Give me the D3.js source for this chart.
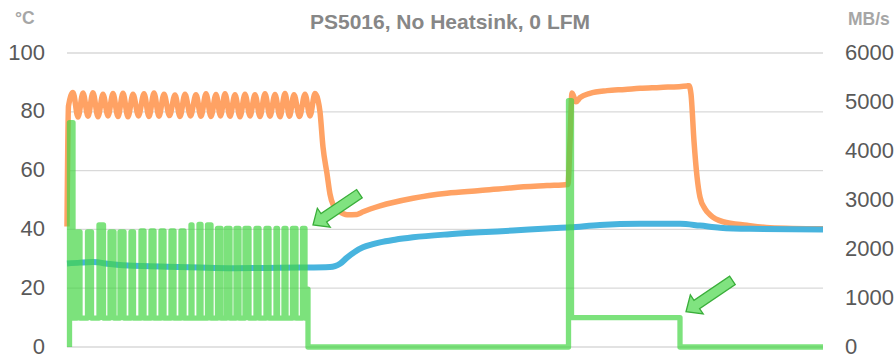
<!DOCTYPE html>
<html>
<head>
<meta charset="utf-8">
<script src="https://cdn.jsdelivr.net/npm/d3@7/dist/d3.min.js"></script>
<style>
	body { margin: 0; background: #fff; }
	svg { display: block; font-family: "Liberation Sans", Arial, sans-serif; }
</style>
</head>
<body>
<svg id="chart" width="896" height="358"></svg>
<script>
// elapsed time in seconds, temperatures in degC, throughput in MB/s
const orangeT = [0, 3,
	12, 22, 32, 42, 52, 62, 72, 82, 92, 102, 112, 122, 132, 143, 154, 164, 174, 184, 194, 205, 216, 226, 236, 247,
	258, 268, 278, 288, 298, 307, 316, 326, 336, 346, 356, 366, 376, 386, 396, 406, 416, 426, 436, 445, 454, 465,
	476, 486, 496,
	502, 506, 512, 520, 526, 532, 546, 560, 580, 592, 626, 692, 760, 826, 892, 960, 1002,
	1006, 1010, 1018, 1026, 1046, 1080, 1116, 1146, 1186, 1240, 1244,
	1248, 1254, 1260, 1266, 1276, 1286, 1312, 1360, 1406, 1512];
const orangeC = [41, 82,
	86.6, 78.2, 86.4, 78.5, 86.5, 78.3, 86.0, 78.6, 86.2, 78.4, 86.3, 78.3, 86.0, 78.6, 86.1, 78.4, 86.4, 78.5, 86.0, 78.7, 85.7, 78.4, 86.0, 78.6,
	85.8, 78.5, 86.1, 78.4, 85.9, 78.6, 86.1, 78.5, 85.8, 78.3, 86.0, 78.6, 85.8, 78.4, 86.1, 78.5, 85.9, 78.3, 86.2, 78.5, 85.8, 78.4,
	86.0, 78.6, 86.2,
	84, 80, 68, 59, 52, 48.5, 46, 45, 45.1, 46, 48, 50.6, 52.3, 53.2, 54.2, 54.9, 55.3,
	70, 86.4, 83.4, 84.8, 86.3, 87.2, 87.6, 88.0, 88.3, 88.8, 88.9,
	86, 70, 58, 51, 47, 45, 42.6, 41.4, 40.6, 40.2];

const blueT = [0, 26, 52, 86, 132, 166, 200, 266, 332, 400, 466, 526, 536, 546, 560, 576, 592, 610, 626, 656, 692, 760, 826, 892, 960, 1006, 1066, 1146, 1226, 1266, 1306, 1366, 1512];
const blueC = [28.4, 28.7, 28.9, 28.2, 27.6, 27.5, 27.3, 27.0, 26.8, 26.9, 27.0, 27.2, 27.5, 28.3, 30.4, 32.4, 33.9, 34.9, 35.6, 36.5, 37.3, 38.3, 39.0, 39.6, 40.3, 40.7, 41.5, 41.9, 41.9, 41.3, 40.6, 40.2, 40.0];

// throttled write bursts: start, end and peak MB/s of every burst
const pulseOn = [20, 41, 64, 86, 106, 128, 148, 168, 188, 208, 228, 248, 264, 281, 301, 319, 338, 356, 378, 398, 418, 434, 451, 471];
const pulseOff = [26, 49, 73, 94, 114, 133, 154, 174, 194, 214, 234, 250, 268, 288, 308, 326, 344, 364, 384, 404, 421, 438, 458, 476];
const pulseTop = [2350, 2350, 2490, 2350, 2350, 2350, 2370, 2370, 2370, 2370, 2370, 2490, 2500, 2490, 2420, 2420, 2420, 2420, 2420, 2420, 2420, 2420, 2420, 2420];
const burstLow = 590;
const greenHead = [[5, 0], [5, 4580], [12, 4580], [12, 590]];
const greenTail = [[478, 590], [478, 1180], [482, 1180], [482, 0], [1003, 0], [1003, 5030], [1009, 5030], [1009, 600], [1226, 600], [1226, 0], [1512, 0]];

const leftTicks = [0, 20, 40, 60, 80, 100];
const rightTicks = [0, 1000, 2000, 3000, 4000, 5000, 6000];

const title = 'PS5016, No Heatsink, 0 LFM';
const leftUnit = '°C';
const rightUnit = 'MB/s';

// arrows pointing at the end of each load, tip in data units
const arrowTips = [[492, 41.5], [1238, 12]];

const svg = d3.select('#chart');
const width = 896;
const margin = {left: 67, right: 73, top: 53, bottom: 11};

let x = d3.scaleLinear().domain([0, 1512]).range([margin.left, width - margin.right]);
let yT = d3.scaleLinear().domain([0, 100]).range([347, margin.top]);
let yR = d3.scaleLinear().domain([0, 6000]).range([347, margin.top]);

// gridlines
svg.append('g')
	.selectAll('line')
	.data(leftTicks)
	.enter().append('line')
	.attr('x1', x(0))
	.attr('x2', x(1512))
	.attr('y1', (d) => yT(d))
	.attr('y2', (d) => yT(d))
	.attr('stroke', '#d9d9d9')
	.attr('stroke-width', 1.3);

svg.append('g')
	.selectAll('text')
	.data(leftTicks)
	.enter().append('text')
	.attr('x', 45)
	.attr('y', (d) => yT(d))
	.attr('dy', '0.3em')
	.attr('text-anchor', 'end')
	.attr('font-size', 22)
	.attr('fill', '#595959')
	.text((d) => d);

svg.append('g')
	.selectAll('text')
	.data(rightTicks)
	.enter().append('text')
	.attr('x', 845)
	.attr('y', (d) => yR(d))
	.attr('dy', '0.3em')
	.attr('text-anchor', 'start')
	.attr('font-size', 22)
	.attr('fill', '#595959')
	.text((d) => d);

svg.append('text')
	.attr('x', 450)
	.attr('y', 29)
	.attr('text-anchor', 'middle')
	.attr('font-size', 21)
	.attr('font-weight', 'bold')
	.attr('fill', '#878787')
	.text(title);

svg.append('text')
	.attr('x', 15)
	.attr('y', 24)
	.attr('font-size', 17.5)
	.attr('font-weight', 'bold')
	.attr('fill', '#a6a6a6')
	.text(leftUnit);

svg.append('text')
	.attr('x', 848)
	.attr('y', 25)
	.attr('font-size', 17.5)
	.attr('font-weight', 'bold')
	.attr('fill', '#a6a6a6')
	.text(rightUnit);

// temperature lines
let tempLine = d3.line()
	.x((d) => x(d[0]))
	.y((d) => yT(d[1]))
	.curve(d3.curveMonotoneX);

svg.append('path')
	.datum(d3.zip(orangeT, orangeC))
	.attr('d', tempLine)
	.attr('fill', 'none')
	.attr('stroke', '#ffa264')
	.attr('stroke-width', 5.5)
	.attr('stroke-linejoin', 'round');

svg.append('path')
	.datum(d3.zip(blueT, blueC))
	.attr('d', tempLine)
	.attr('fill', 'none')
	.attr('stroke', '#48b4de')
	.attr('stroke-width', 6)
	.attr('stroke-linejoin', 'round');

// throughput line
let greenPts = greenHead.slice();
pulseOn.forEach((on, i) => {
	greenPts.push([on, burstLow], [on, pulseTop[i]], [pulseOff[i], pulseTop[i]], [pulseOff[i], burstLow]);
});
greenPts = greenPts.concat(greenTail);

let mbLine = d3.line()
	.x((d) => x(d[0]))
	.y((d) => yR(d[1]));

svg.append('path')
	.datum(greenPts)
	.attr('d', mbLine)
	.attr('fill', 'none')
	.attr('stroke', 'rgb(68,214,68)')
	.attr('stroke-opacity', 0.7)
	.attr('stroke-width', 5.3)
	.attr('stroke-linejoin', 'round');

// arrows
const arrowShape = [[0, 0], [13, -11.5], [13, -5], [56, -5], [56, 5], [13, 5], [13, 11.5]];
svg.append('g')
	.selectAll('polygon')
	.data(arrowTips)
	.enter().append('polygon')
	.attr('points', arrowShape.map((p) => p.join(',')).join(' '))
	.attr('transform', (d) => 'translate(' + x(d[0]) + ',' + yT(d[1]) + ') rotate(-34)')
	.attr('fill', '#80e380')
	.attr('stroke', '#3aae3a')
	.attr('stroke-width', 1.3)
	.attr('stroke-linejoin', 'miter');
</script>
</body>
</html>
